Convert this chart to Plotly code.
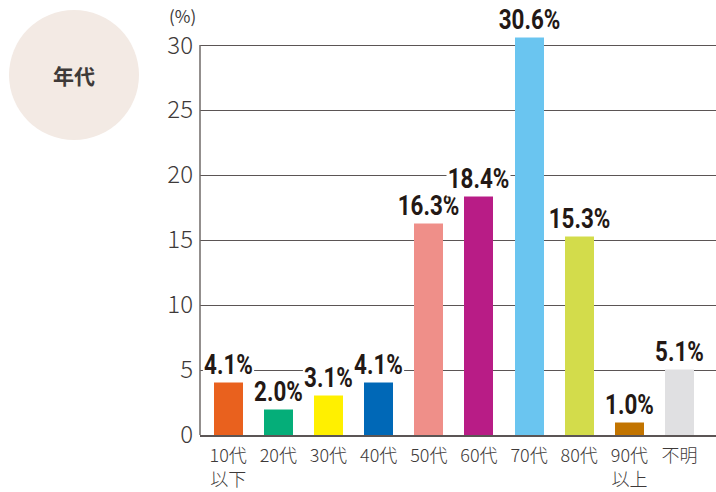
import plotly.graph_objects as go

categories = ["10代<br>以下", "20代", "30代", "40代", "50代", "60代", "70代", "80代", "90代<br>以上", "不明"]
values = [4.1, 2.0, 3.1, 4.1, 16.3, 18.4, 30.6, 15.3, 1.0, 5.1]
colors = ["#E9611E", "#05AE79", "#FFF000", "#0068B7", "#EF8F89",
          "#B81C86", "#6AC5F0", "#D3DC4B", "#C27400", "#E0E0E2"]
y_ticks = [0, 5, 10, 15, 20, 25, 30]
title_text = "年代"
unit_text = "(%)"

xs = list(range(len(categories)))

# plot area geometry (pixels)
L, R, T, B = 200, 716, 36, 435
W, H = R - L, B - T
YMAX = 30.7

def px(xpix):
    return (xpix - L) / W

def py(ypix):
    return (B - ypix) / H

fig = go.Figure()
fig.add_trace(go.Bar(
    x=xs, y=values, marker=dict(color=colors, line=dict(width=0)),
    width=0.578, hoverinfo="skip",
))

for x, v in zip(xs, values):
    fig.add_annotation(
        x=x, y=v, xref="x", yref="y", text=f"{v:.1f}%", showarrow=False,
        yanchor="bottom", xanchor="center", yshift=-1,
        font=dict(family="Roboto", size=28, color="#231815", weight="bold"),
        bgcolor="white", borderpad=1,
    )

# y axis line from 0 to 30
fig.add_shape(type="line", xref="paper", yref="y", x0=0, x1=0, y0=0, y1=30,
              line=dict(color="#6F6A67", width=1.5), layer="above")

# circle badge
fig.add_shape(type="circle", xref="paper", yref="paper",
              x0=px(9), x1=px(139), y0=py(140), y1=py(10),
              fillcolor="#F3EAE4", line=dict(width=0), layer="below")
fig.add_annotation(xref="paper", yref="paper", x=px(74), y=py(75),
                   text=title_text, showarrow=False, xanchor="center", yanchor="middle",
                   font=dict(family="Noto Sans CJK JP", size=21, color="#3E3A39", weight="bold"))
fig.add_annotation(xref="paper", yref="paper", x=px(182), y=py(15),
                   text=unit_text, showarrow=False, xanchor="center", yanchor="middle",
                   font=dict(family="Noto Sans CJK JP", size=17, color="#3E3A39"))

fig.update_layout(
    width=716, height=492,
    margin=dict(l=L, r=716 - R, t=T, b=492 - B, pad=0, autoexpand=False),
    paper_bgcolor="white", plot_bgcolor="white",
    showlegend=False, bargap=0,
    xaxis=dict(
        range=[-0.562, 9.727], tickmode="array", tickvals=xs, ticktext=categories,
        showgrid=False, zeroline=False, showline=True, linecolor="#5B5555", linewidth=1.5,
        ticks="", automargin=False, ticklabelstandoff=4,
        tickfont=dict(family="Noto Sans CJK JP", size=18, color="#3E3A39", weight=300),
        fixedrange=True,
    ),
    yaxis=dict(
        range=[0, YMAX], tickmode="array", tickvals=y_ticks,
        showgrid=True, gridcolor="#5B5555", gridwidth=1.3,
        zeroline=False, showline=False,
        ticks="", ticklabelstandoff=6, automargin=False,
        tickfont=dict(family="Noto Sans CJK JP", size=24, color="#3E3A39", weight=300),
        fixedrange=True,
    ),
)

squeeze_js = """
document.body.style.margin = '0';
var re = /^\\d+\\.\\d%$/;
document.querySelectorAll('g.annotation').forEach(function (g) {
  var t = g.querySelector('text.annotation-text');
  if (!t || !re.test(t.textContent.trim())) return;
  [t, g.querySelector('rect.bg')].forEach(function (el) {
    if (!el) return;
    el.style.transformBox = 'fill-box';
    el.style.transformOrigin = 'center';
    el.style.transform = 'scaleX(0.8)';
  });
});
"""

fig.write_html("out.html", config={"displayModeBar": False}, post_script=squeeze_js)
